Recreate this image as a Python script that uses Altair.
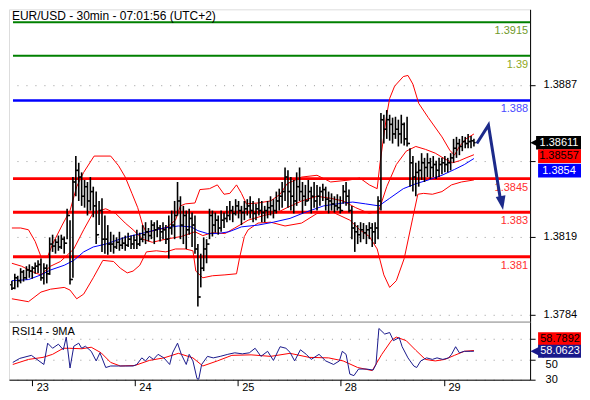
import altair as alt
import pandas as pd

TITLE = "EUR/USD - 30min - 07:01:56 (UTC+2)"
RSI_TITLE = "RSI14 - 9MA"

DAY_LABELS = ["23", "24", "25", "28", "29"]
DAY_START = [7.0, 42.3, 77.7, 113.0, 148.7]

PRICE_TICKS = [1.3784, 1.3819, 1.3853, 1.3887]
RSI_TICKS = [30, 50, 70]
# tick labels that the value boxes cover in the reference
COVERED_PRICE_TICK = 1.3853
COVERED_RSI_TICK = 70
PARTLY_COVERED_RSI_TICK = 50

LEVELS = [1.3915, 1.39, 1.388, 1.3845, 1.383, 1.381]
LEVEL_TEXT = ["1.3915", "1.39", "1.388", "1.3845", "1.383", "1.381"]
LEVEL_COLOR = ["#008000", "#008000", "#0000ff", "#ff0000", "#ff0000", "#ff0000"]
LEVEL_TEXT_COLOR = ["#6f9a2a", "#8fa81e", "#4a4aff", "#ff3030", "#ff3030", "#ff3030"]
LEVEL_WIDTH = [2, 2, 2.5, 3, 3, 3]

FIRST_OPEN = 1.37975
HIGH = [
    1.37993, 1.38024, 1.38015, 1.38049, 1.38041, 1.38058, 1.38066, 1.38058, 1.38075, 1.38084,
    1.38092, 1.38071, 1.38066, 1.38187, 1.38199, 1.38179, 1.38195, 1.38199, 1.38191, 1.38315,
    1.38264, 1.38457, 1.38551, 1.38521, 1.38478, 1.38444, 1.38435, 1.38457, 1.38414, 1.38392,
    1.38350, 1.38362, 1.38285, 1.38242, 1.38212, 1.38199, 1.38187, 1.38212, 1.38187, 1.38195,
    1.38208, 1.38195, 1.38199, 1.38221, 1.38208, 1.38242, 1.38255, 1.38229, 1.38264, 1.38255,
    1.38264, 1.38242, 1.38255, 1.38242, 1.38285, 1.38307, 1.38350, 1.38435, 1.38371, 1.38328,
    1.38307, 1.38315, 1.38298, 1.38285, 1.38157, 1.38114, 1.38187, 1.38179, 1.38315, 1.38307,
    1.38298, 1.38285, 1.38307, 1.38298, 1.38328, 1.38350, 1.38328, 1.38358, 1.38350, 1.38328,
    1.38350, 1.38358, 1.38371, 1.38350, 1.38337, 1.38362, 1.38350, 1.38328, 1.38350, 1.38371,
    1.38358, 1.38392, 1.38405, 1.38435, 1.38500, 1.38487, 1.38457, 1.38444, 1.38478, 1.38500,
    1.38435, 1.38422, 1.38444, 1.38414, 1.38435, 1.38422, 1.38414, 1.38427, 1.38414, 1.38392,
    1.38384, 1.38371, 1.38380, 1.38371, 1.38422, 1.38435, 1.38401, 1.38328, 1.38255, 1.38242,
    1.38255, 1.38251, 1.38242, 1.38255, 1.38251, 1.38255, 1.38371, 1.38744, 1.38736, 1.38757,
    1.38736, 1.38723, 1.38727, 1.38714, 1.38736, 1.38701, 1.38727, 1.38586, 1.38551, 1.38521,
    1.38530, 1.38564, 1.38543, 1.38564, 1.38543, 1.38551, 1.38530, 1.38543, 1.38543, 1.38551,
    1.38543, 1.38564, 1.38628, 1.38637, 1.38628, 1.38641, 1.38637, 1.38650, 1.38641, 1.38628,
]
LOW = [
    1.37951, 1.37955, 1.37963, 1.37981, 1.37989, 1.37998, 1.38006, 1.38002, 1.38024, 1.38028,
    1.37993, 1.37976, 1.37981, 1.38019, 1.38122, 1.38114, 1.38127, 1.38135, 1.38114, 1.38179,
    1.37976, 1.38006, 1.38371, 1.38350, 1.38328, 1.38320, 1.38285, 1.38307, 1.38277, 1.38157,
    1.38242, 1.38122, 1.38114, 1.38109, 1.38122, 1.38114, 1.38135, 1.38127, 1.38135, 1.38127,
    1.38144, 1.38135, 1.38135, 1.38135, 1.38148, 1.38165, 1.38157, 1.38169, 1.38179, 1.38157,
    1.38187, 1.38169, 1.38179, 1.38157, 1.38092, 1.38199, 1.38179, 1.38285, 1.38179, 1.38157,
    1.38135, 1.38199, 1.38144, 1.38114, 1.37878, 1.37963, 1.38036, 1.38071, 1.38179, 1.38191,
    1.38208, 1.38199, 1.38212, 1.38229, 1.38255, 1.38264, 1.38255, 1.38285, 1.38272, 1.38242,
    1.38264, 1.38285, 1.38272, 1.38255, 1.38264, 1.38285, 1.38255, 1.38255, 1.38272, 1.38285,
    1.38272, 1.38294, 1.38307, 1.38320, 1.38350, 1.38320, 1.38307, 1.38294, 1.38328, 1.38350,
    1.38294, 1.38328, 1.38350, 1.38294, 1.38320, 1.38307, 1.38328, 1.38350, 1.38307, 1.38294,
    1.38307, 1.38298, 1.38307, 1.38294, 1.38337, 1.38328, 1.38298, 1.38179, 1.38122, 1.38157,
    1.38165, 1.38179, 1.38157, 1.38179, 1.38144, 1.38157, 1.38179, 1.38307, 1.38607, 1.38628,
    1.38620, 1.38607, 1.38628, 1.38594, 1.38607, 1.38598, 1.38594, 1.38414, 1.38392, 1.38371,
    1.38414, 1.38444, 1.38435, 1.38457, 1.38448, 1.38457, 1.38448, 1.38457, 1.38470, 1.38478,
    1.38478, 1.38487, 1.38521, 1.38543, 1.38555, 1.38573, 1.38586, 1.38586, 1.38586, 1.38594,
]
CLOSE = [
    1.37959, 1.38006, 1.37993, 1.38032, 1.38006, 1.38041, 1.38036, 1.38049, 1.38058, 1.38066,
    1.38006, 1.38049, 1.38024, 1.38157, 1.38148, 1.38165, 1.38144, 1.38179, 1.38161, 1.38285,
    1.37998, 1.38435, 1.38487, 1.38457, 1.38371, 1.38414, 1.38350, 1.38392, 1.38328, 1.38199,
    1.38307, 1.38179, 1.38179, 1.38157, 1.38157, 1.38144, 1.38165, 1.38152, 1.38161, 1.38152,
    1.38179, 1.38157, 1.38174, 1.38157, 1.38179, 1.38199, 1.38212, 1.38195, 1.38242, 1.38221,
    1.38229, 1.38212, 1.38221, 1.38179, 1.38229, 1.38242, 1.38285, 1.38350, 1.38242, 1.38285,
    1.38221, 1.38272, 1.38242, 1.38135, 1.37920, 1.38049, 1.38135, 1.38157, 1.38285, 1.38242,
    1.38264, 1.38229, 1.38264, 1.38272, 1.38285, 1.38307, 1.38294, 1.38328, 1.38307, 1.38298,
    1.38315, 1.38328, 1.38307, 1.38294, 1.38315, 1.38307, 1.38298, 1.38307, 1.38320, 1.38328,
    1.38307, 1.38350, 1.38371, 1.38392, 1.38457, 1.38392, 1.38371, 1.38350, 1.38414, 1.38392,
    1.38371, 1.38350, 1.38392, 1.38371, 1.38350, 1.38371, 1.38392, 1.38401, 1.38358, 1.38350,
    1.38337, 1.38328, 1.38320, 1.38307, 1.38392, 1.38371, 1.38307, 1.38229, 1.38212, 1.38199,
    1.38221, 1.38208, 1.38221, 1.38229, 1.38212, 1.38229, 1.38350, 1.38714, 1.38671, 1.38714,
    1.38693, 1.38650, 1.38671, 1.38650, 1.38693, 1.38628, 1.38607, 1.38521, 1.38457, 1.38478,
    1.38487, 1.38521, 1.38500, 1.38521, 1.38500, 1.38513, 1.38487, 1.38513, 1.38521, 1.38513,
    1.38521, 1.38543, 1.38586, 1.38607, 1.38594, 1.38616, 1.38607, 1.38616, 1.38620, 1.38611,
]

BB_UPPER = [(0, 1.38229), (3, 1.38229), (5.7, 1.38221), (8, 1.38169), (10, 1.38101),
            (12.3, 1.38101), (14, 1.38157), (17.3, 1.38242), (20, 1.38307), (22.3, 1.38414),
            (24.7, 1.38478), (28.3, 1.38551), (34, 1.38551), (36.7, 1.38508), (39, 1.38457),
            (41.3, 1.38384), (43.3, 1.38320), (45, 1.38242), (46.3, 1.38208), (49.7, 1.38221),
            (53, 1.38229), (56.3, 1.38264), (58, 1.38328), (59.7, 1.38337), (63, 1.38341),
            (64.7, 1.38401), (68, 1.38405), (70.7, 1.38422), (73, 1.38380), (75, 1.38384),
            (77.3, 1.38422), (79, 1.38384), (80.7, 1.38337), (84.7, 1.38341), (89, 1.38350),
            (92.3, 1.38380), (94.7, 1.38427), (99.7, 1.38457), (105, 1.38465), (109.7, 1.38435),
            (116.3, 1.38444), (119.7, 1.38453), (123, 1.38422), (125.7, 1.38405), (126.7, 1.38521),
            (129, 1.38736), (130, 1.38809), (131.7, 1.38864), (134.7, 1.38907), (136.3, 1.38912),
            (138, 1.38873), (140, 1.38787), (143.3, 1.38723), (148, 1.38637), (150.7, 1.38577),
            (152.3, 1.38555), (154, 1.38594), (156.3, 1.38628), (159, 1.38650)]
BB_MIDDLE = [(0, 1.38071), (3.3, 1.38058), (8, 1.38028), (10, 1.38019), (13.3, 1.38058),
             (16.7, 1.38079), (21.3, 1.38135), (24.7, 1.38221), (28, 1.38298), (32.3, 1.38315),
             (35.7, 1.38294), (39, 1.38251), (41.7, 1.38221), (45, 1.38179), (48.3, 1.38165),
             (53, 1.38179), (58.3, 1.38191), (63, 1.38212), (65.7, 1.38195), (69, 1.38208),
             (73.3, 1.38204), (76.7, 1.38229), (81.3, 1.38264), (86.7, 1.38285), (91.3, 1.38298),
             (94.7, 1.38320), (99.7, 1.38350), (105, 1.38371), (109.7, 1.38362), (114, 1.38350),
             (118.3, 1.38320), (123, 1.38294), (126.3, 1.38307), (129, 1.38414), (132.3, 1.38513),
             (135.7, 1.38573), (139, 1.38594), (142.3, 1.38581), (145.7, 1.38564), (149, 1.38538),
             (151.7, 1.38521), (154, 1.38530), (156.3, 1.38543), (159, 1.38557)]
BB_LOWER = [(0, 1.37912), (5.7, 1.37899), (10, 1.37942), (13.3, 1.37955), (18, 1.37963),
            (20, 1.37951), (22.3, 1.37912), (24.7, 1.37933), (28, 1.38006), (31.3, 1.38084),
            (35, 1.38079), (37.3, 1.38049), (39.7, 1.38028), (41.7, 1.38036), (44, 1.38062),
            (46.3, 1.38122), (49.7, 1.38127), (53, 1.38122), (56.3, 1.38135), (59.7, 1.38135),
            (62.3, 1.38127), (63.3, 1.38036), (65.7, 1.38006), (69, 1.38015), (73.3, 1.38019),
            (77.3, 1.38024), (78.3, 1.38092), (80, 1.38191), (81.3, 1.38221), (84.7, 1.38251),
            (89, 1.38255), (94, 1.38238), (99.7, 1.38251), (105, 1.38294), (110.7, 1.38298),
            (116.3, 1.38264), (119.7, 1.38221), (123, 1.38191), (125.7, 1.38135), (128, 1.38019),
            (130, 1.37963), (132.3, 1.37993), (135, 1.38092), (138, 1.38277), (139.7, 1.38380),
            (141.7, 1.38384), (144.7, 1.38380), (148, 1.38392), (151.3, 1.38422), (154.7, 1.38435),
            (159, 1.38444)]
MA = [(0, 1.37993), (5.7, 1.37998), (10, 1.38019), (13.3, 1.38041), (18, 1.38062),
      (21.3, 1.38084), (24.7, 1.38122), (28, 1.38144), (32.3, 1.38157), (39, 1.38187),
      (45.7, 1.38208), (52.3, 1.38229), (57.3, 1.38238), (61.7, 1.38234), (64, 1.38217),
      (67.3, 1.38204), (70.7, 1.38204), (74.7, 1.38212), (79, 1.38234), (84.7, 1.38242),
      (90, 1.38255), (95.7, 1.38272), (100.7, 1.38298), (107.3, 1.38328), (114, 1.38341),
      (117.3, 1.38345), (121.7, 1.38337), (126.3, 1.38328), (130, 1.38362), (134.7, 1.38405),
      (139, 1.38427), (143.3, 1.38444), (148, 1.38465), (152.3, 1.38491), (155.7, 1.38513),
      (159, 1.38540)]

RSI = [(0.3, 47), (2.7, 51), (6.7, 54), (11, 45), (12.3, 66), (14, 61), (16, 65), (17.7, 59.5),
       (18.7, 72), (20, 41.5), (21.3, 63), (23, 66), (24, 61), (25.3, 63), (27.3, 58), (29, 48.5),
       (30.3, 56.5), (32.3, 42), (34, 43.5), (36.7, 43.5), (39, 43.5), (41.7, 43.5), (43, 45),
       (44.7, 51.5), (46, 48.5), (47.3, 53), (48.7, 50), (50.3, 55), (52.3, 51.5), (54.3, 45),
       (55.3, 56.5), (57, 66), (58.3, 55), (60, 45), (61, 55), (62.3, 48.5), (63.7, 31), (64.3, 30.5),
       (65.3, 45), (67.3, 53), (69.3, 51.5), (71.7, 53), (74.3, 55), (76.7, 56.5), (79.3, 55.5),
       (81.7, 56.5), (83.7, 61), (85.7, 53), (88, 58), (90, 49), (92.3, 62.5), (94.3, 61),
       (95.7, 57), (97.3, 48.5), (99.3, 59.5), (101.3, 55), (103, 50), (105.7, 55), (108, 48.5),
       (110.7, 45), (112.7, 48.5), (113.7, 58), (115, 55), (116.3, 35.5), (117.7, 34), (119.3, 40.5),
       (122, 40.5), (124.3, 39.5), (125.3, 45), (126.3, 80.5), (128.3, 75), (130, 76.5), (131.3, 68.5),
       (133.3, 71.5), (134.3, 62.5), (136.3, 51.5), (138.3, 43.5), (139.3, 42), (140.7, 48.5),
       (142.7, 51.5), (144.7, 50), (146.3, 51.5), (148.3, 50), (150.3, 51.5), (151.3, 55),
       (152.7, 62.5), (154, 56.5), (155.7, 58), (157.7, 58), (159, 58.0623)]
RSI_MA = [(0.3, 45), (5.7, 50), (10.7, 52), (14, 55), (17.7, 61), (19.7, 61), (24, 60.5),
          (27.3, 62), (30.7, 56.5), (34, 47), (37.3, 43.5), (42.3, 44), (47.3, 49), (52.3, 51.5),
          (57.3, 56), (62.3, 51.5), (65.7, 43.5), (70.7, 48.5), (75.7, 54), (82.3, 54.5), (89, 53),
          (95.7, 56), (102.3, 52), (109, 51.5), (114, 48.5), (119, 42), (124, 39), (127.3, 55),
          (130.7, 69), (132.3, 72), (135.7, 68.5), (139, 59), (142.3, 50), (145.7, 48.5),
          (149, 50), (152.3, 54), (155.7, 58), (159, 58.7892)]

ARROW = [(160, 1.38607), (164, 1.38689), (168, 1.38367)]
ARROW_HEAD = (168.6, 1.38341)

LAST_CLOSE = 1.38611
LAST_BB_MID = 1.38557
LAST_MA = 1.3854
LAST_RSI = 58.0623
LAST_RSI_MA = 58.7892

# ---------------------------------------------------------------- layout
W, H1, H2 = 522, 313, 58
X_DOM = [-1, 178.33]
P_DOM = [1.37809, 1.39208]
R_DOM = [30, 87.1]
NAVY = "#1a1a8c"
ARROW_COL = "#1c2a8a"

xs = alt.Scale(domain=X_DOM, nice=False, zero=False)
ps = alt.Scale(domain=P_DOM, nice=False, zero=False)
rs = alt.Scale(domain=R_DOM, nice=False, zero=False)

p_per_px = (P_DOM[1] - P_DOM[0]) / H1
r_per_px = (R_DOM[1] - R_DOM[0]) / H2

opens = [FIRST_OPEN] + CLOSE[:-1]
bars = pd.DataFrame({"i": list(range(len(CLOSE))), "high": HIGH, "low": LOW,
                     "open": opens, "close": CLOSE})
bars["il"] = bars["i"] - 0.6
bars["ir"] = bars["i"] + 0.6

price_axis = alt.Axis(orient="right", values=PRICE_TICKS, grid=True,
                      labelExpr=f"abs(datum.value - {COVERED_PRICE_TICK}) < 0.00001 ? '' : format(datum.value, '.4f')",
                      gridDash=[1, 8], gridColor="#9a9a9a", domainColor="black",
                      tickColor="black", tickSize=5, labelPadding=8, labelFontSize=11,
                      labelColor="black", title=None)
main_x_axis = alt.Axis(orient="bottom", labels=False, ticks=False, grid=False,
                       domainColor="black", title=None)

X = lambda f: alt.X(f, scale=xs, axis=main_x_axis)
Y = lambda f: alt.Y(f, scale=ps, axis=price_axis)

lv = pd.DataFrame({"level": LEVELS, "text": LEVEL_TEXT, "col": LEVEL_COLOR,
                   "tcol": LEVEL_TEXT_COLOR, "w": LEVEL_WIDTH})
level_rules = alt.Chart(lv).mark_rule().encode(
    y=Y("level:Q"), x=alt.value(4), x2=alt.value(W),
    color=alt.Color("col:N", scale=None), strokeWidth=alt.StrokeWidth("w:Q", scale=None))
level_text = alt.Chart(lv).mark_text(align="right", baseline="middle", dy=9, fontSize=11).encode(
    y=Y("level:Q"), x=alt.value(W - 2), text="text:N", color=alt.Color("tcol:N", scale=None))

band_rows = []
for name, pts, col in [("up", BB_UPPER, "#ff0000"), ("mid", BB_MIDDLE, "#ff0000"),
                       ("low", BB_LOWER, "#ff0000"), ("ma", MA, "#0000ff")]:
    for k, (xv, v) in enumerate(pts):
        band_rows.append({"band": name, "k": k, "x": xv, "v": v, "col": col})
bands = alt.Chart(pd.DataFrame(band_rows)).mark_line(strokeWidth=1).encode(
    x=X("x:Q"), y=Y("v:Q"), detail="band:N", order="k:Q",
    color=alt.Color("col:N", scale=None))

bar_base = alt.Chart(bars)
hl = bar_base.mark_rule(color="black", strokeWidth=1.6).encode(
    x=X("i:Q"), y=Y("low:Q"), y2="high:Q")
otick = bar_base.mark_rule(color="black", strokeWidth=1.5).encode(
    x=X("il:Q"), x2="i:Q", y=Y("open:Q"))
ctick = bar_base.mark_rule(color="black", strokeWidth=1.5).encode(
    x=X("i:Q"), x2="ir:Q", y=Y("close:Q"))

arrow_df = pd.DataFrame({"k": list(range(len(ARROW))), "x": [a[0] for a in ARROW],
                         "v": [a[1] for a in ARROW]})
arrow = alt.Chart(arrow_df).mark_line(color=ARROW_COL, strokeWidth=3, strokeJoin="miter").encode(
    x=X("x:Q"), y=Y("v:Q"), order="k:Q")
head = alt.Chart(pd.DataFrame({"x": [ARROW_HEAD[0]], "v": [ARROW_HEAD[1]]})).mark_point(
    shape="M -0.7 -1 L 0.7 -1 L 0 1 Z", filled=True, size=200, opacity=1,
    color=ARROW_COL, angle=350).encode(x=X("x:Q"), y=Y("v:Q"))

title = alt.Chart(pd.DataFrame({"t": [TITLE]})).mark_text(
    align="left", baseline="middle", fontSize=12, color="black").encode(
    text="t:N", x=alt.value(3), y=alt.value(7))

# price boxes at the right
box_h = 6.8 * p_per_px
c_black = LAST_CLOSE
c_red = c_black - 13.5 * p_per_px
c_blue = c_red - 14.5 * p_per_px
pbox = pd.DataFrame({
    "c": [c_black, c_red, c_blue],
    "text": [f"{LAST_CLOSE:.5f}", f"{LAST_BB_MID:.5f}", f"{LAST_MA:.4f}"],
    "fill": ["#000000", "#ff0000", "#0000ff"],
    "tc": ["white", "black", "white"],
    "x1": [W + 6, W + 8, W + 8],
})
pbox["lo"] = pbox["c"] - box_h
pbox["hi"] = pbox["c"] + box_h
pbox_rect = alt.Chart(pbox).mark_rect().encode(
    x=alt.X("x1:Q", scale=None), x2=alt.value(W + 51), y=Y("lo:Q"), y2="hi:Q",
    color=alt.Color("fill:N", scale=None))
pbox_text = alt.Chart(pbox).mark_text(fontSize=11, baseline="middle", align="center").encode(
    x=alt.value(W + 29), y=Y("c:Q"), text="text:N", color=alt.Color("tc:N", scale=None))
pointer = alt.Chart(pd.DataFrame({"c": [c_black]})).mark_point(
    shape="M -1 0 L 1 -1 L 1 1 Z", filled=True, size=190, opacity=1, color="black").encode(
    x=alt.value(W + 7), y=Y("c:Q"))

main = alt.layer(level_rules, bands, hl, otick, ctick, level_text, arrow, head, title,
                 pbox_rect, pointer, pbox_text).properties(width=W, height=H1)

# ---------------------------------------------------------------- RSI panel
expr = "''"
for v, lab in reversed(list(zip(DAY_START, DAY_LABELS))):
    expr = f"abs(datum.value - {v}) < 0.5 ? '{lab}' : ({expr})"
day_axis = alt.Axis(orient="bottom", values=DAY_START, labelExpr=expr, labelAlign="left",
                    labelOffset=4, labelPadding=-4, labelBaseline="top", tickSize=6,
                    tickColor="black", domainColor="black", labelFontSize=11,
                    labelColor="black", grid=False, title=None)
rsi_axis = alt.Axis(orient="right", values=RSI_TICKS, grid=True, gridDash=[1, 8],
                    labelExpr=f"datum.value == {COVERED_RSI_TICK} ? '' : datum.label",
                    labelOffset={"condition": {"test": f"datum.value == {PARTLY_COVERED_RSI_TICK}",
                                               "value": 5}, "value": 0},
                    gridColor="#9a9a9a", domainColor="black", tickColor="black", tickSize=5,
                    labelPadding=10, labelFontSize=11, labelColor="black", title=None)

rrows = []
for name, pts, col in [("ma", RSI_MA, "#ff0000"), ("rsi", RSI, NAVY)]:
    for k, (xv, v) in enumerate(pts):
        rrows.append({"s": name, "k": k, "x": xv, "v": v, "col": col})
rsi_lines = alt.Chart(pd.DataFrame(rrows)).mark_line(strokeWidth=1).encode(
    x=alt.X("x:Q", scale=xs, axis=day_axis),
    y=alt.Y("v:Q", scale=rs, axis=rsi_axis),
    detail="s:N", order="k:Q", color=alt.Color("col:N", scale=None))

RY = lambda f: alt.Y(f, scale=rs, axis=rsi_axis)
rbh = 6.6 * r_per_px
rc_blue = LAST_RSI
rc_red = rc_blue + 12.5 * r_per_px
rbox = pd.DataFrame({"c": [rc_red, rc_blue],
                     "text": [f"{LAST_RSI_MA:.4f}", f"{LAST_RSI:.4f}"],
                     "fill": ["#ff0000", NAVY], "tc": ["black", "white"]})
rbox["lo"] = rbox["c"] - rbh
rbox["hi"] = rbox["c"] + rbh
rbox_rect = alt.Chart(rbox).mark_rect().encode(
    x=alt.value(W + 8), x2=alt.value(W + 51), y=RY("lo:Q"), y2="hi:Q",
    color=alt.Color("fill:N", scale=None))
rbox_text = alt.Chart(rbox).mark_text(fontSize=11, baseline="middle", align="center").encode(
    x=alt.value(W + 30), y=RY("c:Q"), text="text:N", color=alt.Color("tc:N", scale=None))
rpointer = alt.Chart(pd.DataFrame({"c": [rc_blue]})).mark_point(
    shape="M -1 0 L 1 -1 L 1 1 Z", filled=True, size=180, opacity=1, color=NAVY).encode(
    x=alt.value(W + 7), y=RY("c:Q"))
rsi_title = alt.Chart(pd.DataFrame({"t": [RSI_TITLE]})).mark_text(
    align="left", baseline="middle", fontSize=11, color="black").encode(
    text="t:N", x=alt.value(3), y=alt.value(10))

rsi = alt.layer(rsi_lines, rbox_rect, rpointer, rbox_text, rsi_title).properties(width=W, height=H2)

chart = alt.vconcat(main, rsi, spacing=0, padding=0, bounds="flush").configure_view(
    stroke=None).configure(font="Liberation Sans", background="white")

chart.save("out.html", embed_options={"renderer": "svg", "actions": False})
